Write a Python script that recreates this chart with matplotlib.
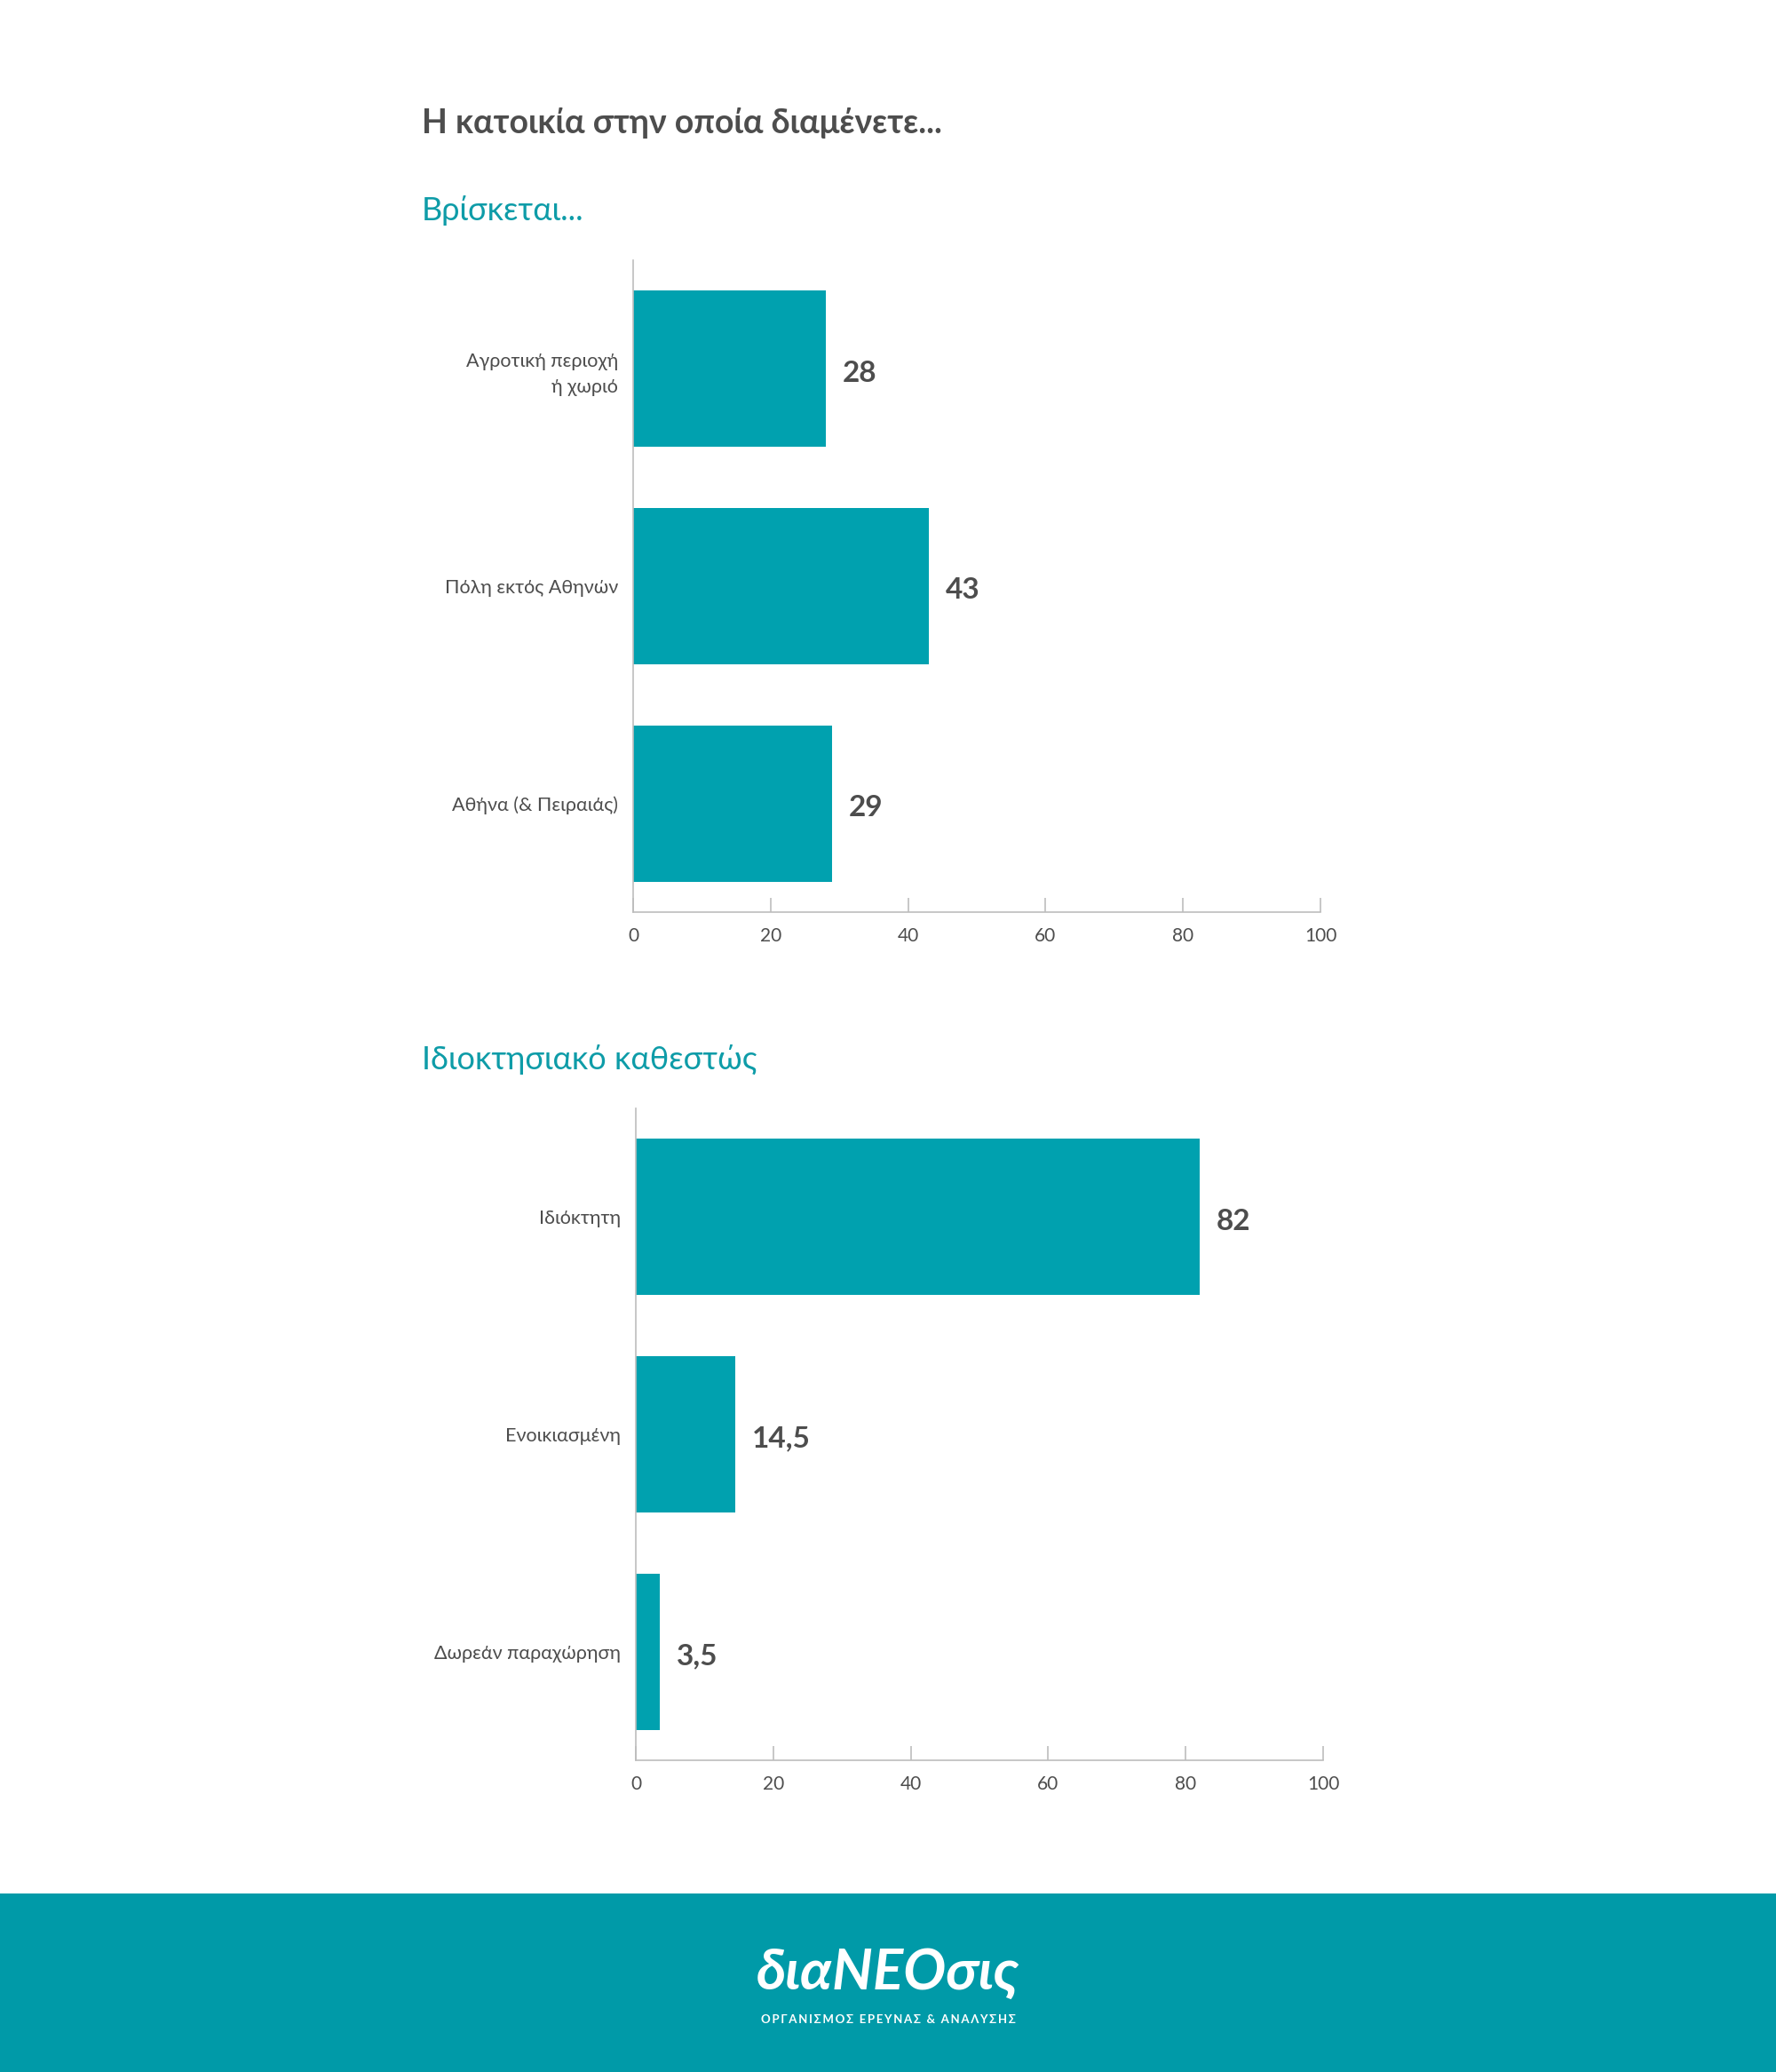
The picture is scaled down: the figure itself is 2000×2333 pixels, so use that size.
import matplotlib
matplotlib.use("Agg")
import matplotlib.pyplot as plt
from matplotlib.patches import Rectangle

plt.rcParams['font.family'] = ['Lato', 'DejaVu Sans']

title = "Η κατοικία στην οποία διαμένετε..."
sub1 = "Βρίσκεται..."
sub2 = "Ιδιοκτησιακό καθεστώς"

cats1 = ["Αγροτική περιοχή\nή χωριό", "Πόλη εκτός Αθηνών", "Αθήνα (& Πειραιάς)"]
vals1 = [28, 43, 29]
cats2 = ["Ιδιόκτητη", "Ενοικιασμένη", "Δωρεάν παραχώρηση"]
vals2 = [82, 14.5, 3.5]
xticks = [0, 20, 40, 60, 80, 100]

BAR = "#00A1AF"
TEXT = "#4D4D4D"
TEAL = "#0E9CA8"
AXIS = "#BDBDBD"
FOOT = "#009AA8"

W, H = 2000, 2333
fig = plt.figure(figsize=(W / 100, H / 100), dpi=100)
fig.patch.set_facecolor("white")


def fmt(v):
    s = f"{v:g}"
    return s.replace(".", ",")


def draw(ax, cats, vals):
    y = list(range(len(cats)))
    ax.barh(y, vals, height=0.72, color=BAR, zorder=2)
    ax.set_ylim(len(cats) - 0.5, -0.5)
    ax.set_xlim(0, 100)
    ax.set_yticks(y)
    ax.set_yticklabels(cats, fontsize=15.5, color=TEXT, ha="right", linespacing=1.55)
    ax.tick_params(axis="y", length=0, pad=12)
    ax.set_xticks(xticks)
    ax.set_xticklabels([str(t) for t in xticks], fontsize=15, color=TEXT)
    ax.tick_params(axis="x", direction="in", length=11.5, width=1.2, color=AXIS, pad=12)
    for s in ["top", "right"]:
        ax.spines[s].set_visible(False)
    for s in ["left", "bottom"]:
        ax.spines[s].set_color(AXIS)
        ax.spines[s].set_linewidth(1.2)
    for yi, v in zip(y, vals):
        ax.text(v + 2.4, yi + 0.02, fmt(v), va="center", ha="left", fontsize=24,
                fontweight="bold", color=TEXT)
    ax.set_facecolor("none")


ax1 = fig.add_axes([0.3565, 0.5598, 0.387, 0.3146])
draw(ax1, cats1, vals1)
ax2 = fig.add_axes([0.358, 0.1504, 0.387, 0.3147])
draw(ax2, cats2, vals2)

fig.text(0.2375, 0.9405, title, fontsize=27, fontweight="bold", color=TEXT,
         ha="left", va="center")
fig.text(0.2375, 0.8984, sub1, fontsize=26, fontweight="normal", color=TEAL,
         ha="left", va="center")
fig.text(0.2375, 0.4886, sub2, fontsize=26, fontweight="normal", color=TEAL,
         ha="left", va="center")

fig.patches.append(Rectangle((0, 0), 1, (H - 2132) / H, transform=fig.transFigure,
                             facecolor=FOOT, edgecolor="none", zorder=0))
fig.text(0.5, 0.0475, "διαNEOσις", fontsize=46, fontweight="bold", style="italic",
         color="white", ha="center", va="center")
footer_sub = "\u2009".join("ΟΡΓΑΝΙΣΜΟΣ ΕΡΕΥΝΑΣ & ΑΝΑΛΥΣΗΣ")
fig.text(0.5, 0.0253, footer_sub, family=['Lato', 'DejaVu Sans'],
         fontsize=9.5, fontweight="bold", color="white", ha="center", va="center")

fig.savefig("out.png", dpi=100, facecolor="white")
